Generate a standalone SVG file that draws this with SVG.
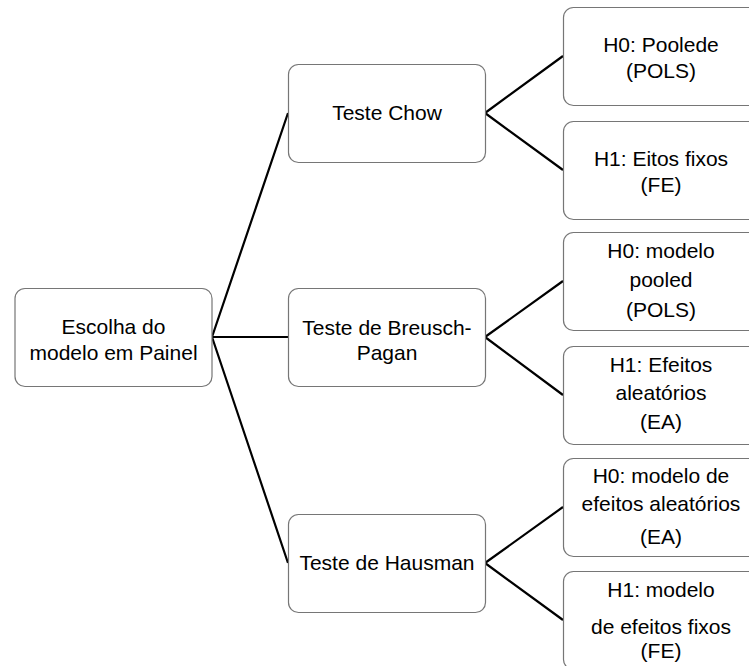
<svg xmlns="http://www.w3.org/2000/svg" width="749" height="666" viewBox="0 0 749 666">
<style>
.box{fill:#fff;stroke:#767676;stroke-width:1.2}
.t{font-family:"Liberation Sans",Arial,sans-serif;font-size:21px;fill:#000;text-anchor:middle}
.c{stroke:#000;stroke-width:2.2;fill:none}
</style>
<rect width="749" height="666" fill="#fff"/>
<g id="connectors">
<path class="c" d="M212,337 L288,113 M212,337 L288,337 M212,337 L288,563"/>
<path class="c" d="M485,113 L563,56 M485,113 L563,170"/>
<path class="c" d="M485,337 L563,281 M485,337 L563,395"/>
<path class="c" d="M485,563 L563,507 M485,563 L563,620"/>
</g>
<g id="root"><rect class="box" x="15" y="288.5" width="197" height="98" rx="10"/>
<text class="t" x="113.5" y="334">Escolha do</text><text class="t" x="113.5" y="360">modelo em Painel</text></g>
<g id="chow"><rect class="box" x="288.5" y="64.5" width="197" height="98" rx="10"/>
<text class="t" x="387" y="120">Teste Chow</text></g>
<g id="bp"><rect class="box" x="288.5" y="288.5" width="197" height="98" rx="10"/>
<text class="t" x="387" y="335">Teste de Breusch-</text><text class="t" x="387" y="360">Pagan</text></g>
<g id="hausman"><rect class="box" x="288.5" y="514.5" width="197" height="98" rx="10"/>
<text class="t" x="387" y="570">Teste de Hausman</text></g>
<g id="chow-h0"><rect class="box" x="563.5" y="7.5" width="197" height="98" rx="10"/>
<text class="t" x="661" y="52">H0: Poolede</text><text class="t" x="661" y="78">(POLS)</text></g>
<g id="chow-h1"><rect class="box" x="563.5" y="121.5" width="197" height="98" rx="10"/>
<text class="t" x="661" y="166">H1: Eitos fixos</text><text class="t" x="661" y="192">(FE)</text></g>
<g id="bp-h0"><rect class="box" x="563.5" y="232.5" width="197" height="98" rx="10"/>
<text class="t" x="661" y="258">H0: modelo</text><text class="t" x="661" y="287">pooled</text><text class="t" x="661" y="317">(POLS)</text></g>
<g id="bp-h1"><rect class="box" x="563.5" y="346.5" width="197" height="98" rx="10"/>
<text class="t" x="661" y="372">H1: Efeitos</text><text class="t" x="661" y="400">aleatórios</text><text class="t" x="661" y="429">(EA)</text></g>
<g id="haus-h0"><rect class="box" x="563.5" y="458.5" width="197" height="98" rx="10"/>
<text class="t" x="661" y="483">H0: modelo de</text><text class="t" x="661" y="511">efeitos aleatórios</text><text class="t" x="661" y="544">(EA)</text></g>
<g id="haus-h1"><rect class="box" x="563.5" y="571.5" width="197" height="98" rx="10"/>
<text class="t" x="661" y="597">H1: modelo</text><text class="t" x="661" y="634">de efeitos fixos</text><text class="t" x="661" y="658">(FE)</text></g>
</svg>
